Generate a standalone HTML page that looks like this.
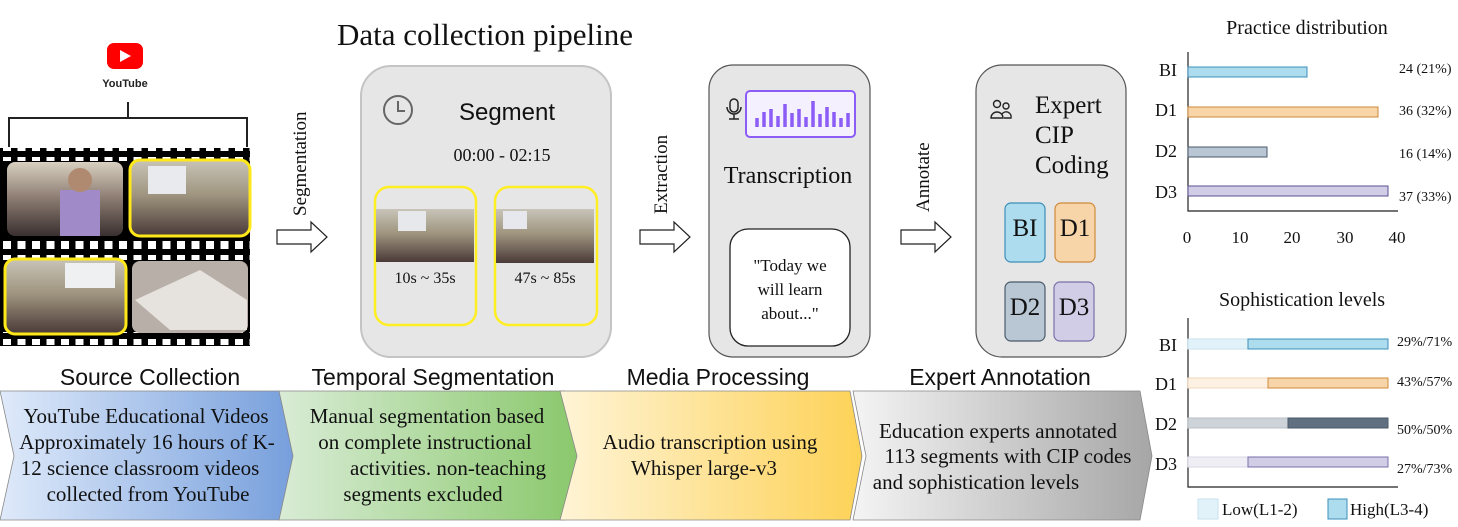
<!DOCTYPE html>
<html><head><meta charset="utf-8"><style>
html,body{margin:0;padding:0;background:#fff}
svg{display:block}
.s{font-family:"Liberation Serif",serif}
.a{font-family:"Liberation Sans",sans-serif}
</style></head><body>
<svg width="1458" height="527" viewBox="0 0 1458 527" xmlns="http://www.w3.org/2000/svg">
<defs>
<linearGradient id="g1"><stop offset="0" stop-color="#dfeafa"/><stop offset="1" stop-color="#779fdc"/></linearGradient>
<linearGradient id="g2"><stop offset="0" stop-color="#d9ecd6"/><stop offset="1" stop-color="#8ac86c"/></linearGradient>
<linearGradient id="g3"><stop offset="0" stop-color="#fff4d6"/><stop offset="1" stop-color="#fdd257"/></linearGradient>
<linearGradient id="g4"><stop offset="0" stop-color="#f4f4f4"/><stop offset="1" stop-color="#a6a6a6"/></linearGradient>
<linearGradient id="ph1" x1="0" y1="0" x2="0" y2="1"><stop offset="0" stop-color="#d8d0c0"/><stop offset=".5" stop-color="#8a7a70"/><stop offset="1" stop-color="#3a3030"/></linearGradient>
<linearGradient id="ph2" x1="0" y1="0" x2="0" y2="1"><stop offset="0" stop-color="#c8c4b8"/><stop offset=".45" stop-color="#a09680"/><stop offset="1" stop-color="#4a3a38"/></linearGradient>
<pattern id="holes" width="14.5" height="14" patternUnits="userSpaceOnUse"><rect width="14.5" height="14" fill="#000"/><rect x="3" y="3" width="8" height="8" fill="#fff"/></pattern>
</defs>

<rect x="107" y="43" width="36" height="26" rx="7" fill="#f00"/>
<polygon points="120,50 120,62 131,56" fill="#fff"/>
<text x="125" y="87" text-anchor="middle" class="a" font-size="11" font-weight="bold" fill="#222">YouTube</text>
<path d="M128 102 V118 M9 147 V118 H247 V147" stroke="#222" stroke-width="2" fill="none"/>
<rect x="0" y="148" width="250" height="198" fill="#000"/>
<rect x="1" y="148" width="249" height="13" fill="url(#holes)"/>
<rect x="1" y="236" width="249" height="24" fill="url(#holes)"/>
<rect x="1" y="332" width="249" height="13" fill="url(#holes)"/>
<rect x="7" y="162" width="116" height="74" rx="8" fill="url(#ph1)"/>
<rect x="60" y="190" width="40" height="46" fill="#a08ac8"/>
<circle cx="80" cy="180" r="12" fill="#b08a70"/>
<rect x="130" y="160" width="120" height="76" rx="10" fill="url(#ph2)" stroke="#ffe81a" stroke-width="3"/>
<rect x="148" y="166" width="38" height="28" fill="#e8eaee"/>
<rect x="5" y="259" width="121" height="75" rx="10" fill="url(#ph2)" stroke="#ffe81a" stroke-width="3"/>
<rect x="65" y="263" width="50" height="25" fill="#eef0f2"/>
<rect x="132" y="261" width="116" height="72" rx="8" fill="#b8b0a8"/>
<polygon points="135,300 200,270 247,300 247,330 170,330" fill="#e6e2de"/>

<text transform="translate(306,216) rotate(-90)" class="s" font-size="19" fill="#111">Segmentation</text>
<polygon points="277,230 311,230 311,222 327,237 311,252 311,244 277,244" fill="#fff" stroke="#222" stroke-width="1.2"/>

<text x="485" y="45" text-anchor="middle" class="s" font-size="31" fill="#111">Data collection pipeline</text>

<rect x="361" y="66" width="250" height="291" rx="30" fill="#e6e6e6" stroke="#c4c4c4" stroke-width="2"/>
<circle cx="398" cy="110" r="14" fill="none" stroke="#666" stroke-width="2"/>
<path d="M398 101 V111 H405" stroke="#666" stroke-width="2" fill="none"/>
<text x="507" y="120" text-anchor="middle" class="a" font-size="24" fill="#111">Segment</text>
<text x="502" y="161" text-anchor="middle" class="s" font-size="18" fill="#111">00:00 - 02:15</text>
<rect x="375" y="187" width="101" height="138" rx="14" fill="none" stroke="#ffee22" stroke-width="2.5"/>
<rect x="376" y="209" width="98" height="53" fill="url(#ph2)"/>
<rect x="398" y="211" width="28" height="20" fill="#e6e8ec"/>
<text x="425" y="283" text-anchor="middle" class="s" font-size="16" fill="#111">10s ~ 35s</text>
<rect x="495" y="187" width="102" height="138" rx="14" fill="none" stroke="#ffee22" stroke-width="2.5"/>
<rect x="496" y="209" width="98" height="54" fill="url(#ph2)"/>
<rect x="503" y="211" width="24" height="18" fill="#e6e8ee"/>
<text x="545" y="283" text-anchor="middle" class="s" font-size="16" fill="#111">47s ~ 85s</text>

<text transform="translate(667,214) rotate(-90)" class="s" font-size="19" fill="#111">Extraction</text>
<polygon points="640,230 674,230 674,222 690,237 674,252 674,244 640,244" fill="#fff" stroke="#222" stroke-width="1.2"/>

<rect x="709" y="65" width="161" height="292" rx="24" fill="#e6e6e6" stroke="#555" stroke-width="1.2"/>
<rect x="730" y="99" width="8" height="13" rx="4" fill="none" stroke="#222" stroke-width="1.5"/>
<path d="M727 107 a6 6 0 0 0 14 0 M734 114 V119 M729 119 H739" stroke="#222" stroke-width="1.5" fill="none"/>
<rect x="746" y="91" width="109" height="46" rx="4" fill="#f4f0fe" stroke="#8c5cf6" stroke-width="2"/>
<g stroke="#8c5cf6" stroke-width="3.5">
<line x1="757" y1="118" x2="757" y2="127"/><line x1="764" y1="112" x2="764" y2="127"/><line x1="771" y1="109" x2="771" y2="127"/><line x1="778" y1="116" x2="778" y2="127"/><line x1="785" y1="104" x2="785" y2="127"/><line x1="792" y1="113" x2="792" y2="127"/><line x1="799" y1="109" x2="799" y2="127"/><line x1="806" y1="117" x2="806" y2="127"/><line x1="813" y1="101" x2="813" y2="127"/><line x1="820" y1="114" x2="820" y2="127"/><line x1="827" y1="107" x2="827" y2="127"/><line x1="834" y1="112" x2="834" y2="127"/><line x1="841" y1="118" x2="841" y2="127"/><line x1="848" y1="113" x2="848" y2="127"/>
</g>
<text x="788" y="183" text-anchor="middle" class="s" font-size="24" fill="#111">Transcription</text>
<rect x="730" y="229" width="120" height="117" rx="18" fill="#fff" stroke="#222" stroke-width="1.3"/>
<text class="s" font-size="17" fill="#111" text-anchor="middle"><tspan x="790" y="271">"Today we</tspan><tspan x="790" y="295">will learn</tspan><tspan x="790" y="319">about..."</tspan></text>

<text transform="translate(929,212) rotate(-90)" class="s" font-size="19" fill="#111">Annotate</text>
<polygon points="901,230 935,230 935,222 951,237 935,252 935,244 901,244" fill="#fff" stroke="#222" stroke-width="1.2"/>

<rect x="976" y="65" width="150" height="292" rx="26" fill="#e6e6e6" stroke="#555" stroke-width="1.2"/>
<g stroke="#222" stroke-width="1.4" fill="none">
<circle cx="997" cy="104" r="3.5"/><circle cx="1006" cy="106" r="3"/>
<path d="M991 118 a6 6 0 0 1 12 0 Z"/><path d="M1004 118 h7 a5 5 0 0 0 -9 -4"/>
</g>
<text class="s" font-size="25" fill="#111"><tspan x="1035" y="113">Expert</tspan><tspan x="1035" y="143">CIP</tspan><tspan x="1035" y="173">Coding</tspan></text>
<rect x="1005" y="203" width="40" height="59" rx="6" fill="#acdcee" stroke="#3b8fb8" stroke-width="1.2"/>
<rect x="1055" y="203" width="40" height="59" rx="6" fill="#f8d5a8" stroke="#d08a3a" stroke-width="1.2"/>
<rect x="1005" y="282" width="40" height="59" rx="6" fill="#b8c7d3" stroke="#4a5a6a" stroke-width="1.2"/>
<rect x="1054" y="282" width="40" height="59" rx="6" fill="#d2cde6" stroke="#7a6fa8" stroke-width="1.2"/>
<g class="s" font-size="25" fill="#111" text-anchor="middle">
<text x="1025" y="236">BI</text><text x="1075" y="236">D1</text><text x="1025" y="315">D2</text><text x="1074" y="315">D3</text>
</g>

<g class="a" font-size="23" fill="#111" text-anchor="middle">
<text x="150" y="385">Source Collection</text>
<text x="433" y="385">Temporal Segmentation</text>
<text x="718" y="385">Media Processing</text>
<text x="1000" y="385">Expert Annotation</text>
</g>

<polygon points="0,391 280,391 294,456 280,520 0,520 14,456" fill="url(#g1)" stroke="#888" stroke-width="0.8"/>
<polygon points="279,391 565,391 578,456 565,520 279,520 293,456" fill="url(#g2)" stroke="#888" stroke-width="0.8"/>
<polygon points="560,391 850,391 862,456 850,520 560,520 577,456" fill="url(#g3)" stroke="#888" stroke-width="0.8"/>
<polygon points="853,391 1140,391 1152,456 1140,520 853,520 866,456" fill="url(#g4)" stroke="#888" stroke-width="0.8"/>
<g class="s" font-size="21" fill="#111" text-anchor="middle">
<text x="146" y="423">YouTube Educational Videos</text>
<text x="147" y="449">Approximately 16 hours of K-</text>
<text x="140" y="475">12 science classroom videos</text>
<text x="148" y="501">collected from YouTube</text>
<text x="427" y="423">Manual segmentation based</text>
<text x="425" y="449">on complete instructional</text>
<text x="448" y="475">activities. non-teaching</text>
<text x="423" y="501">segments excluded</text>
<text x="710" y="449">Audio transcription using</text>
<text x="704" y="475">Whisper large-v3</text>
<text x="998" y="438">Education experts annotated</text>
<text x="1008" y="463">113 segments with CIP codes</text>
<text x="976" y="489">and sophistication levels</text>
</g>

<text x="1307" y="34" text-anchor="middle" class="s" font-size="20" fill="#111">Practice distribution</text>
<path d="M1188 52 V211 H1398" stroke="#222" stroke-width="1.2" fill="none"/>
<rect x="1188" y="67" width="119" height="10" fill="#acdcee" stroke="#3b8fb8"/>
<rect x="1188" y="107" width="190" height="10" fill="#f8d5a8" stroke="#d08a3a"/>
<rect x="1188" y="147" width="79" height="10" fill="#b8c7d3" stroke="#4a5a6a"/>
<rect x="1188" y="186" width="200" height="10" fill="#d2cde6" stroke="#5a5090"/>
<g class="s" font-size="18" fill="#111" text-anchor="end">
<text x="1177" y="76">BI</text><text x="1177" y="116">D1</text><text x="1177" y="157">D2</text><text x="1177" y="198">D3</text>
</g>
<g class="s" font-size="14" fill="#111">
<text x="1399" y="73">24 (21%)</text><text x="1399" y="115">36 (32%)</text><text x="1399" y="158">16 (14%)</text><text x="1399" y="201">37 (33%)</text>
</g>
<g class="s" font-size="17" fill="#111" text-anchor="middle">
<text x="1187" y="243">0</text><text x="1240" y="243">10</text><text x="1292" y="243">20</text><text x="1345" y="243">30</text><text x="1397" y="243">40</text>
</g>

<text x="1302" y="306" text-anchor="middle" class="s" font-size="20" fill="#111">Sophistication levels</text>
<path d="M1188 318 V487 H1398" stroke="#222" stroke-width="1.2" fill="none"/>
<rect x="1188" y="339" width="60" height="10" fill="#e2f2f9" stroke="#c8e2ee"/>
<rect x="1248" y="339" width="140" height="10" fill="#acdcee" stroke="#3b8fb8"/>
<rect x="1188" y="378" width="80" height="10" fill="#fdf1e4" stroke="#f2d8b8"/>
<rect x="1268" y="378" width="120" height="10" fill="#f8d5a8" stroke="#d08a3a"/>
<rect x="1188" y="418" width="100" height="10" fill="#cdd3d9" stroke="#b8c0c8"/>
<rect x="1288" y="418" width="100" height="10" fill="#607080" stroke="#4a5a6a"/>
<rect x="1188" y="457" width="60" height="10" fill="#efeef4" stroke="#d8d6e4"/>
<rect x="1248" y="457" width="140" height="10" fill="#d2cde6" stroke="#7a6fa8"/>
<g class="s" font-size="18" fill="#111" text-anchor="end">
<text x="1177" y="351">BI</text><text x="1177" y="390">D1</text><text x="1177" y="430">D2</text><text x="1177" y="470">D3</text>
</g>
<g class="s" font-size="14" fill="#111">
<text x="1397" y="346">29%/71%</text><text x="1397" y="386">43%/57%</text><text x="1397" y="434">50%/50%</text><text x="1397" y="473">27%/73%</text>
</g>
<rect x="1198" y="499" width="20" height="20" fill="#e2f2f9" stroke="#c8e2ee"/>
<text x="1222" y="515" class="s" font-size="17" fill="#111">Low(L1-2)</text>
<rect x="1328" y="499" width="19" height="20" fill="#acdcee" stroke="#3b8fb8"/>
<text x="1350" y="515" class="s" font-size="17" fill="#111">High(L3-4)</text>
</svg>
</body></html>
